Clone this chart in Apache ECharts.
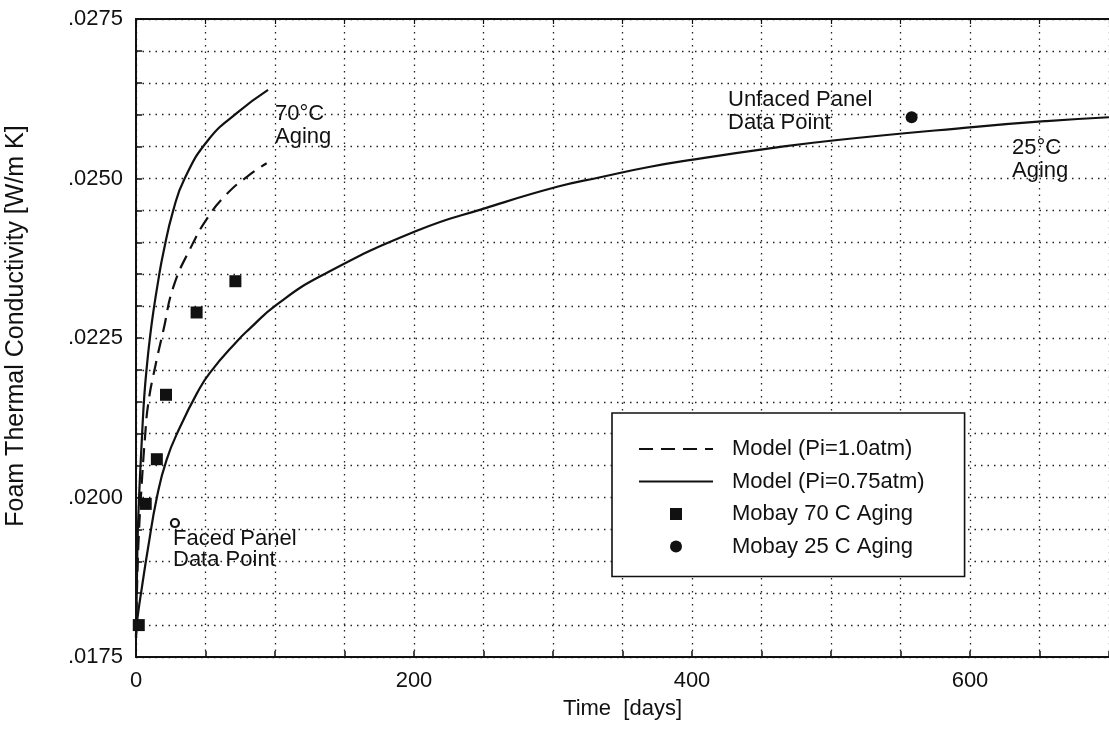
<!DOCTYPE html>
<html>
<head>
<meta charset="utf-8">
<script src="https://cdn.jsdelivr.net/npm/echarts@6/dist/echarts.min.js"></script>
<style>
  html, body { margin: 0; padding: 0; background: #ffffff; }
  #chart { width: 1109px; height: 736px; }
</style>
</head>
<body>
<div id="chart"></div>
<script>
// ---- data -------------------------------------------------------------
// Model, initial cell pressure 1.0 atm, 70 °C aging
const model10Days = [0, 1, 2, 3.5, 6.5, 9, 13.8, 19.8, 26.9, 39, 52, 65, 80, 94];
const model10K70  = [0.0178, 0.0188, 0.0194, 0.0200, 0.02095, 0.0215, 0.02205, 0.02263, 0.0233, 0.0239, 0.0244, 0.02475, 0.02503, 0.02524];

// Model, initial cell pressure 0.75 atm, 70 °C aging
const model075Days70 = [0, 1, 2, 4.3, 6, 8, 10, 12.4, 16, 19.6, 26.8, 35, 51.8, 72.7, 95];
const model075K70    = [0.0178, 0.0192, 0.0199, 0.02095, 0.0216, 0.0221, 0.0225, 0.0229, 0.0234, 0.02383, 0.0245, 0.0250, 0.0256, 0.02603, 0.02639];

// Model, initial cell pressure 0.75 atm, 25 °C aging
const model075Days25 = [0, 1, 4.3, 8.6, 15, 22, 31.6, 44, 53, 72.7, 82, 101, 134.6, 202, 252, 303, 334, 369, 402, 452, 503, 604, 655, 700];
const model075K25    = [0.01785, 0.0181, 0.0186, 0.0192, 0.0200, 0.02059, 0.0211, 0.02164, 0.02195, 0.02245, 0.02265, 0.02302, 0.02349, 0.02418, 0.02454, 0.02487, 0.02502, 0.02518, 0.0253, 0.02546, 0.0256, 0.02581, 0.0259, 0.02596];

// Measurements
const mobay70Days = [2, 7, 15, 21.6, 43.6, 71.5];
const mobay70K    = [0.0180, 0.0199, 0.0206, 0.02161, 0.0229, 0.02339];
const mobay25Days = [558];
const mobay25K    = [0.02596];
const facedDays   = [28];
const facedK      = [0.0196];

const legendNames = ['Model (Pi=1.0atm)', 'Model (Pi=0.75atm)', 'Mobay 70 C Aging', 'Mobay 25 C Aging'];
const xTitle = 'Time  [days]';
const yTitle = 'Foam Thermal Conductivity [W/m K]';

// ---- helpers ----------------------------------------------------------
const pairs = (xs, ys) => xs.map((x, i) => [x, ys[i]]);
const FONT = '"Liberation Sans", Arial, Helvetica, sans-serif';
const INK = '#111';
const NONE = 'rgba(0,0,0,0)';
const SQUARE = 'path://M0,0L10,0L10,10L0,10Z';

const chart = echarts.init(document.getElementById('chart'), null, { renderer: 'canvas' });

const dotted = { color: '#222', width: 1.3, type: [1.5, 5] };

const option = {
  backgroundColor: '#ffffff',
  animation: false,
  textStyle: { fontFamily: FONT, color: INK },
  grid: { left: 136, top: 19, right: 0, bottom: 79, containLabel: false, outerBoundsMode: 'none' },
  xAxis: [{
    type: 'value', min: 0, max: 700, interval: 50,
    name: xTitle, nameLocation: 'middle', nameGap: 41,
    nameTextStyle: { fontFamily: FONT, fontSize: 22, color: INK },
    axisLine: { show: true, onZero: false, lineStyle: { color: INK, width: 2 } },
    axisTick: { show: true, inside: true, length: 6, lineStyle: { color: INK, width: 1.5 } },
    axisLabel: {
      margin: 13, fontFamily: FONT, fontSize: 22, color: INK,
      formatter: v => (v % 200 === 0 ? String(v) : '')
    },
    splitLine: { show: true, lineStyle: dotted }
  }, {
    type: 'value', position: 'top', min: 0, max: 700, interval: 50,
    axisLine: { show: true, onZero: false, lineStyle: { color: INK, width: 2 } },
    axisTick: { show: true, inside: true, length: 5, lineStyle: { color: INK, width: 1.2 } },
    axisLabel: { show: false }, splitLine: { show: false }
  }],
  yAxis: {
    type: 'value', min: 0.0175, max: 0.0275, interval: 0.0005,
    name: yTitle, nameLocation: 'middle', nameGap: 107, nameRotate: 90,
    nameTextStyle: { fontFamily: FONT, fontSize: 25, color: INK, padding: [0, 0, 0, 24] },
    axisLine: { show: true, onZero: false, lineStyle: { color: INK, width: 2 } },
    axisTick: { show: true, inside: true, length: 6, lineStyle: { color: INK, width: 1.5 } },
    axisLabel: {
      margin: 13, fontFamily: FONT, fontSize: 22, color: INK,
      formatter: v => (Math.round(v * 10000) % 25 === 0 ? v.toFixed(4).replace(/^0/, '') : '')
    },
    splitLine: { show: true, lineStyle: dotted }
  },
  legend: {
    data: [
      { name: legendNames[0], itemStyle: { color: NONE, borderColor: NONE, borderWidth: 0 } },
      { name: legendNames[1], itemStyle: { color: NONE, borderColor: NONE, borderWidth: 0 } },
      { name: legendNames[2], icon: SQUARE },
      { name: legendNames[3], icon: 'circle' }
    ],
    orient: 'vertical',
    left: 612, top: 413,
    padding: [25, 40, 19, 26],
    itemGap: 10.5,
    itemWidth: 74, itemHeight: 12,
    symbolKeepAspect: true,
    backgroundColor: '#ffffff',
    borderColor: INK, borderWidth: 1.6, borderRadius: 0,
    textStyle: { fontFamily: FONT, fontSize: 22, color: INK, padding: [0, 0, 0, 14] },
    selectedMode: false
  },
  series: [
    {
      name: legendNames[0], type: 'line', data: pairs(model10Days, model10K70),
      symbol: 'none', smooth: 0.5,
      lineStyle: { color: INK, width: 2.2, type: [14, 8] }, itemStyle: { color: INK }, z: 3
    },
    {
      name: legendNames[1], type: 'line', data: pairs(model075Days70, model075K70),
      symbol: 'none', smooth: 0.5,
      lineStyle: { color: INK, width: 2.2 }, itemStyle: { color: INK }, z: 3
    },
    {
      name: legendNames[1], type: 'line', data: pairs(model075Days25, model075K25),
      symbol: 'none', smooth: 0.5,
      lineStyle: { color: INK, width: 2.2 }, itemStyle: { color: INK }, z: 3
    },
    {
      name: legendNames[2], type: 'scatter', data: pairs(mobay70Days, mobay70K),
      symbol: 'rect', symbolSize: 12, itemStyle: { color: INK, opacity: 1 }, z: 4
    },
    {
      name: legendNames[3], type: 'scatter', data: pairs(mobay25Days, mobay25K),
      symbol: 'circle', symbolSize: 12, itemStyle: { color: INK, opacity: 1 }, z: 4
    },
    {
      name: 'Faced Panel', type: 'scatter', data: pairs(facedDays, facedK),
      symbol: 'circle', symbolSize: 8,
      itemStyle: { color: '#ffffff', borderColor: INK, borderWidth: 2.2, opacity: 1 }, z: 4
    }
  ],
  graphic: [
    { type: 'text', left: 275, top: 102, style: { text: '70°C\nAging', font: '22px ' + FONT, fill: INK, lineHeight: 23 } },
    { type: 'text', left: 728, top: 88, style: { text: 'Unfaced Panel\nData Point', font: '22px ' + FONT, fill: INK, lineHeight: 23 } },
    { type: 'text', left: 1012, top: 136, style: { text: '25°C\nAging', font: '22px ' + FONT, fill: INK, lineHeight: 23 } },
    { type: 'text', left: 173, top: 528, style: { text: 'Faced Panel\nData Point', font: '22px ' + FONT, fill: INK, lineHeight: 21 } }
  ]
};

chart.setOption(option);
</script>
</body>
</html>
